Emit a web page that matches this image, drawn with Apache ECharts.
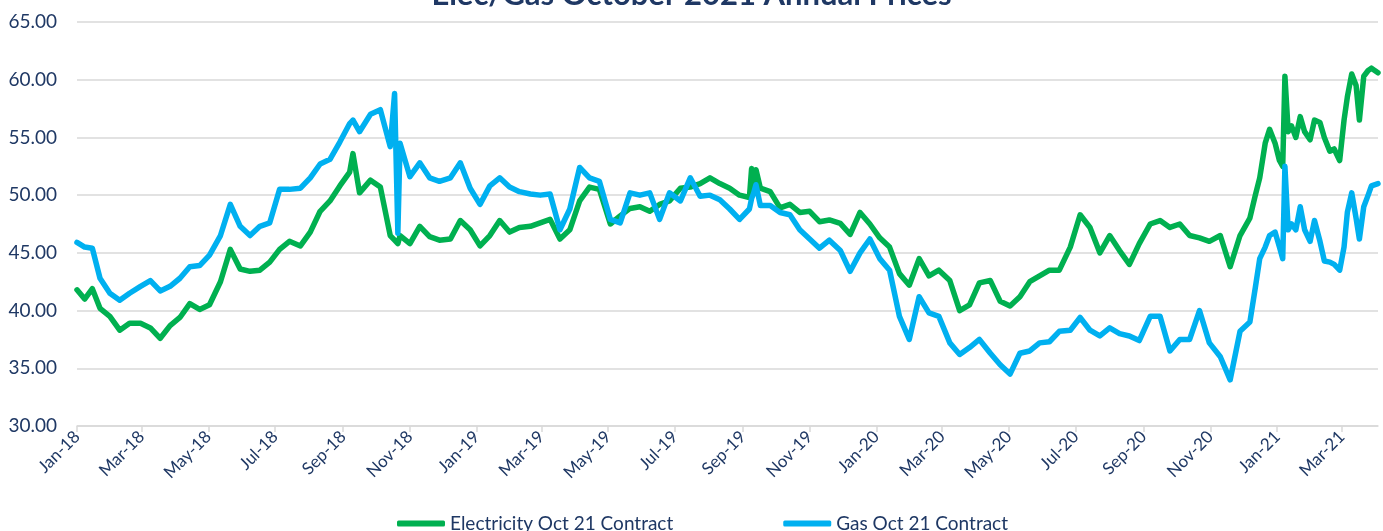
<!DOCTYPE html>
<html>
<head>
<meta charset="utf-8">
<script src="https://cdn.jsdelivr.net/npm/echarts@6/dist/echarts.min.js"></script>
<style>
  html, body { margin: 0; padding: 0; background: #fff; }
  #chart { width: 1383px; height: 531px; }
</style>
</head>
<body>
<div id="chart"></div>
<script>
// sample dates (both series share them)
const dates = [
  '2018-01-01','2018-01-08','2018-01-15','2018-01-22','2018-01-31','2018-02-09','2018-02-18','2018-02-28',
  '2018-03-09','2018-03-18','2018-03-27','2018-04-05','2018-04-14','2018-04-23','2018-05-02','2018-05-12',
  '2018-05-21','2018-05-30','2018-06-08','2018-06-17','2018-06-26','2018-07-05','2018-07-14','2018-07-24',
  '2018-08-02','2018-08-11','2018-08-20','2018-08-29','2018-09-07','2018-09-10','2018-09-16','2018-09-26',
  '2018-10-05','2018-10-14','2018-10-18','2018-10-21','2018-10-23','2018-11-01','2018-11-10','2018-11-19',
  '2018-11-28','2018-12-08','2018-12-17','2018-12-26','2019-01-04','2019-01-13','2019-01-22','2019-01-31',
  '2019-02-09','2019-02-19','2019-02-28','2019-03-09','2019-03-18','2019-03-27','2019-04-05','2019-04-14',
  '2019-04-23','2019-05-03','2019-05-12','2019-05-21','2019-05-30','2019-06-08','2019-06-17','2019-06-26',
  '2019-07-06','2019-07-15','2019-07-24','2019-08-02','2019-08-11','2019-08-20','2019-08-29','2019-09-07',
  '2019-09-09','2019-09-11','2019-09-13','2019-09-17','2019-09-26','2019-10-05','2019-10-14','2019-10-23',
  '2019-11-01','2019-11-10','2019-11-19','2019-11-29','2019-12-08','2019-12-17','2019-12-26','2020-01-04',
  '2020-01-13','2020-01-22','2020-01-31','2020-02-09','2020-02-18','2020-02-27','2020-03-08','2020-03-17',
  '2020-03-26','2020-04-04','2020-04-14','2020-04-23','2020-05-02','2020-05-11','2020-05-20','2020-05-29',
  '2020-06-07','2020-06-16','2020-06-26','2020-07-05','2020-07-14','2020-07-23','2020-08-01','2020-08-10',
  '2020-08-19','2020-08-28','2020-09-07','2020-09-16','2020-09-25','2020-10-04','2020-10-13','2020-10-22',
  '2020-10-31','2020-11-10','2020-11-19','2020-11-28','2020-12-07','2020-12-12','2020-12-16','2020-12-21',
  '2020-12-25','2020-12-30','2021-01-03','2021-01-06','2021-01-08','2021-01-11','2021-01-14','2021-01-18',
  '2021-01-22','2021-01-26','2021-01-31','2021-02-04','2021-02-09','2021-02-13','2021-02-18','2021-02-22',
  '2021-02-27','2021-03-03','2021-03-06','2021-03-10','2021-03-14','2021-03-17','2021-03-21','2021-03-25',
  '2021-03-28','2021-04-03'
];

const elecValues = [
  41.8,41.0,41.9,40.2,39.5,38.3,38.9,38.9, 38.5,37.6,38.7,39.4,40.6,40.1,40.5,42.5,
  45.3,43.6,43.4,43.5,44.2,45.3,46.0,45.6, 46.8,48.6,49.5,50.8,52.0,53.6,50.2,51.3,
  50.7,46.5,46.1,45.8,46.5,45.8,47.3,46.4, 46.1,46.2,47.8,47.0,45.6,46.5,47.8,46.8,
  47.2,47.3,47.6,47.9,46.2,47.0,49.5,50.7, 50.5,47.5,48.2,48.85,49.0,48.6,49.2,49.5,
  50.6,50.7,51.0,51.5,51.0,50.6,50.0,49.8, 52.3,50.7,52.2,50.6,50.3,48.9,49.2,48.5,
  48.6,47.7,47.85,47.55,46.6,48.5,47.5,46.3, 45.5,43.2,42.2,44.5,43.0,43.5,42.6,40.0,
  40.5,42.4,42.6,40.8,40.4,41.2,42.5,43.0, 43.5,43.5,45.5,48.3,47.2,45.0,46.5,45.2,
  44.0,45.8,47.5,47.8,47.2,47.5,46.5,46.3, 46.0,46.5,43.8,46.5,48.0,50.0,51.5,54.5,
  55.7,54.5,53.0,52.5,60.3,55.5,56.0,55.0, 56.8,55.5,54.8,56.5,56.3,55.0,53.8,54.0,
  53.0,56.5,58.5,60.5,59.5,56.5,60.3,60.8, 61.0,60.6
];

const gasValues = [
  45.9,45.5,45.4,42.8,41.5,40.9,41.5,42.1, 42.6,41.7,42.1,42.8,43.8,43.9,44.8,46.5,
  49.2,47.3,46.5,47.3,47.6,50.5,50.5,50.6, 51.5,52.7,53.1,54.6,56.2,56.5,55.5,57.0,
  57.4,54.2,58.8,46.7,54.5,51.6,52.8,51.5, 51.2,51.5,52.8,50.6,49.2,50.8,51.5,50.7,
  50.3,50.1,50.0,50.1,47.0,48.8,52.4,51.5, 51.2,47.9,47.6,50.2,50.0,50.2,47.9,50.2,
  49.5,51.5,49.9,50.0,49.6,48.8,47.9,48.8, 49.7,50.2,50.9,49.1,49.1,48.5,48.3,47.0,
  46.2,45.4,46.1,45.2,43.4,45.0,46.2,44.5, 43.5,39.5,37.5,41.2,39.8,39.5,37.2,36.2,
  36.8,37.5,36.3,35.3,34.5,36.3,36.5,37.2, 37.3,38.2,38.3,39.4,38.3,37.8,38.5,38.0,
  37.8,37.4,39.5,39.5,36.5,37.5,37.5,40.0, 37.2,36.0,34.0,38.2,39.0,42.0,44.5,45.5,
  46.5,46.8,45.5,44.5,52.5,47.0,47.5,47.0, 49.0,47.0,46.0,47.8,46.0,44.3,44.2,44.0,
  43.5,45.5,48.5,50.2,48.0,46.2,49.0,50.0, 50.8,51.0
];

const monthNames = ['Jan','Feb','Mar','Apr','May','Jun','Jul','Aug','Sep','Oct','Nov','Dec'];
const seriesNames = ['Electricity Oct 21 Contract', 'Gas Oct 21 Contract'];

// every calendar day from first to last sample -> date axis like Excel
const days = [];
for (let t = Date.UTC(2018, 0, 1); t <= Date.UTC(2021, 3, 3); t += 86400000) {
  days.push(new Date(t).toISOString().slice(0, 10));
}

// ticks/labels on the 1st of every other month (Jan, Mar, May...)
const isTickDay = (i, v) => v.slice(8) === '01' && (Number(v.slice(5, 7)) % 2 === 1);

const navy = '#1F3864';

const chart = echarts.init(document.getElementById('chart'));
chart.setOption({
  animation: false,
  backgroundColor: '#fff',
  title: {
    text: 'Elec/Gas October 2021 Annual Prices',
    left: 'center',
    top: -26,
    textStyle: { color: navy, fontFamily: 'Lato', fontWeight: 'bold', fontSize: 31 }
  },
  legend: {
    data: seriesNames,
    left: 392,
    top: 509,
    icon: 'roundRect',
    itemWidth: 48,
    itemHeight: 6,
    itemGap: 110,
    textStyle: { color: navy, fontFamily: 'Lato', fontSize: 19 }
  },
  grid: { left: 77, right: 5, top: 22, bottom: 105 },
  xAxis: {
    type: 'category',
    data: days,
    boundaryGap: false,
    axisLine: { lineStyle: { color: '#D9D9D9', width: 1.5 } },
    axisTick: { interval: isTickDay, length: 6, lineStyle: { color: '#D9D9D9', width: 1.5 } },
    axisLabel: {
      interval: isTickDay,
      rotate: 45,
      margin: 8,
      color: navy,
      fontFamily: 'Lato',
      fontSize: 17,
      formatter: v => monthNames[Number(v.slice(5, 7)) - 1] + '-' + v.slice(2, 4)
    },
    splitLine: { show: false }
  },
  yAxis: {
    type: 'value',
    min: 30,
    max: 65,
    interval: 5,
    axisLine: { show: false },
    axisTick: { show: false },
    axisLabel: {
      color: navy,
      fontFamily: 'Lato',
      fontSize: 19,
      margin: 20,
      formatter: v => v.toFixed(2)
    },
    splitLine: { lineStyle: { color: '#D9D9D9', width: 1.5 } }
  },
  series: [
    {
      name: seriesNames[0],
      type: 'line',
      data: dates.map((d, i) => [d, elecValues[i]]),
      symbol: 'none',
      color: '#00B050',
      lineStyle: { width: 5.5, cap: 'round', join: 'round' }
    },
    {
      name: seriesNames[1],
      type: 'line',
      data: dates.map((d, i) => [d, gasValues[i]]),
      symbol: 'none',
      color: '#00B0F0',
      lineStyle: { width: 5.5, cap: 'round', join: 'round' }
    }
  ]
});
</script>
</body>
</html>
